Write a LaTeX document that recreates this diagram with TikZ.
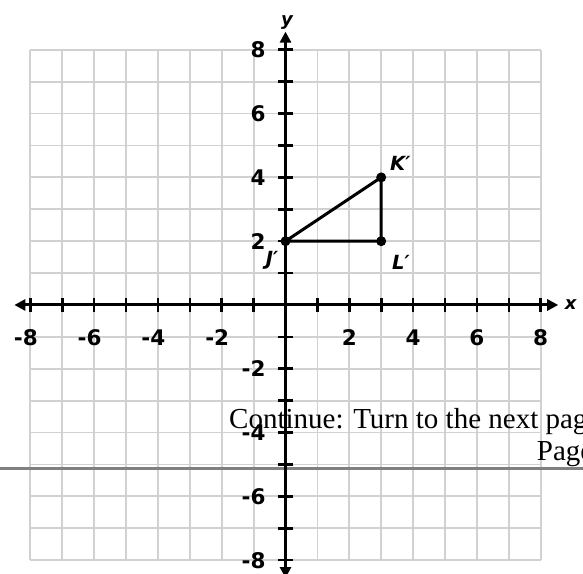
\documentclass[tikz,border=0pt]{standalone}
\usepackage{fontspec}
\newfontfamily\dvs{DejaVu Sans}
\newfontfamily\lserif{Liberation Serif}
\usetikzlibrary{arrows.meta}
\begin{document}
\begin{tikzpicture}[x=31.9pt,y=31.9pt,
  gridline/.style={draw=black!18,line width=1.8pt},
  axisline/.style={line width=3pt,{Triangle[length=11pt,width=11pt]}-{Triangle[length=11pt,width=11pt]}},
  tickmark/.style={line width=2.6pt},
  ticklabel/.style={font=\dvs\bfseries\fontsize{21.5}{24}\selectfont,inner sep=0pt},
  vlabel/.style={font=\dvs\bfseries\itshape\fontsize{19.5}{22}\selectfont,inner sep=0pt},
  axlabel/.style={font=\dvs\bfseries\itshape\fontsize{18}{20}\selectfont,inner sep=0pt},
  vdot/.style={circle,fill=black,inner sep=0pt,minimum size=10pt},
  edge/.style={line width=3pt,line join=round},
  serif/.style={font=\lserif\fontsize{29}{34}\selectfont,inner sep=0pt,anchor=base west},
  sepline/.style={draw=black!50,line width=2.4pt}]
\useasboundingbox (-8.95,-8.433) rectangle (9.326,9.561);
\clip (-8.95,-8.433) rectangle (9.326,9.561);
\fill[white] (-8.95,-8.433) rectangle (9.326,9.561);
% grid
\foreach \i in {-8,...,8} {
  \draw[gridline] (\i,-8) -- (\i,8);
  \draw[gridline] (-8,\i) -- (8,\i);
}
% separator line
\coordinate (sepL) at (-8.95,-5.125);
\coordinate (sepR) at (9.326,-5.125);
\draw[sepline] (sepL) -- (sepR);
% axes
\coordinate (xw) at (-8.50,0);
\coordinate (xe) at (8.55,0);
\coordinate (ys) at (0,-8.56);
\coordinate (yn) at (0,8.57);
\draw[axisline] (xw) -- (xe);
\draw[axisline] (ys) -- (yn);
\node[axlabel] (xlab) at (8.94,0.0) {x};
\node[axlabel] (ylab) at (0.05,8.85) {y};
% ticks
\foreach \i in {-8,...,-1,1,2,...,8} {
  \draw[tickmark] (\i,-0.22) -- (\i,0.22);
  \draw[tickmark] (-0.22,\i) -- (0.22,\i);
}
% tick labels
\foreach \i [count=\n] in {-8,-6,-4,-2} {
  \node[ticklabel] (xln\n) at (\i,-1.02) {\llap{-}\the\numexpr-\i\relax};
  \node[ticklabel,anchor=east] (yln\n) at (-0.62,\i) {-\the\numexpr-\i\relax};
}
\foreach \i [count=\n] in {2,4,6,8} {
  \node[ticklabel] (xlp\n) at (\i,-1.02) {\i};
  \node[ticklabel,anchor=east] (ylp\n) at (-0.62,\i) {\i};
}
% triangle
\node[vdot] (J) at (0,2) {};
\node[vdot] (K) at (3,4) {};
\node[vdot] (L) at (3,2) {};
\draw[edge] (J.center) -- (K.center) -- (L.center) -- cycle;
\node[vlabel] (Jl) at (-0.42,1.41) {J′};
\node[vlabel] (Kl) at (3.6,4.45) {K′};
\node[vlabel] (Ll) at (3.62,1.35) {L′};
% page text
\node[serif] (cont) at (-1.771,-3.887) {Continue: Turn to the next pag};
\node[serif] (page) at (7.875,-4.881) {Page};
\end{tikzpicture}
\end{document}
